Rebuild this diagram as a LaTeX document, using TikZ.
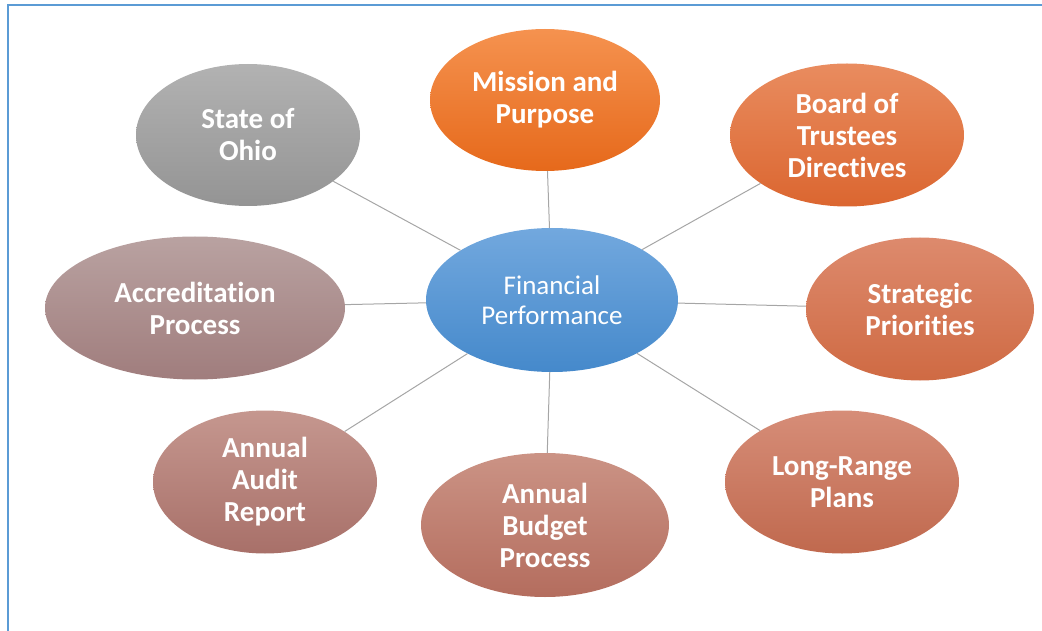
\documentclass[tikz,border=0pt]{standalone}
\usepackage{fontspec}
\setmainfont{Carlito}[Ligatures=CommonOff]
\usetikzlibrary{shapes.geometric}
\definecolor{frameblue}{HTML}{5B9BD5}
\definecolor{linkgray}{HTML}{A6A6A6}
\definecolor{hubtop}{HTML}{72A8DE}      \definecolor{hubbot}{HTML}{4589CB}
\definecolor{missiontop}{HTML}{F5924F}  \definecolor{missionbot}{HTML}{E6691B}
\definecolor{boardtop}{HTML}{E98C5F}    \definecolor{boardbot}{HTML}{DB6630}
\definecolor{strategytop}{HTML}{DD8A6D} \definecolor{strategybot}{HTML}{CF6A43}
\definecolor{longtop}{HTML}{D68D78}     \definecolor{longbot}{HTML}{C0694E}
\definecolor{budgettop}{HTML}{CB9385}   \definecolor{budgetbot}{HTML}{B46D5E}
\definecolor{audittop}{HTML}{C5978F}    \definecolor{auditbot}{HTML}{A87069}
\definecolor{accredtop}{HTML}{B9A2A1}   \definecolor{accredbot}{HTML}{A07D7D}
\definecolor{ohiotop}{HTML}{B2B2B2}     \definecolor{ohiobot}{HTML}{949494}
\begin{document}
\begin{tikzpicture}[x=1pt, y=-1pt,
    bubble/.style 2 args={ellipse, inner sep=0pt, top color=#1, bottom color=#2,
      draw=none, text=white, align=center,
      font=\bfseries\fontsize{29}{32}\selectfont},
    link/.style={draw=linkgray, line width=1pt}]
      \useasboundingbox (0, 0) rectangle (1042, 631);
      \draw [frameblue, line width=2pt] (7.5, 631) -- (7.5, 5.5) -- (1042, 5.5);
      % hub
      \node (hub) [bubble={hubtop}{hubbot}, minimum width=252pt, minimum height=144pt,
                   font=\fontsize{27}{30}\selectfont] at (552, 300) {Financial\\Performance};
      % topics round the hub
      \node (mission) [bubble={missiontop}{missionbot}, minimum width=230pt, minimum height=142pt]
            at (545, 100) {Mission and\\Purpose};
      \node (board) [bubble={boardtop}{boardbot}, minimum width=234pt, minimum height=143pt]
            at (847, 135) {Board of\\Trustees\\Directives};
      \node (strategy) [bubble={strategytop}{strategybot}, minimum width=228pt, minimum height=143pt]
            at (920, 309) {Strategic\\Priorities};
      \node (longrange) [bubble={longtop}{longbot}, minimum width=234pt, minimum height=143pt]
            at (842, 482) {Long-Range\\Plans};
      \node (budget) [bubble={budgettop}{budgetbot}, minimum width=248pt, minimum height=144pt]
            at (545, 525) {Annual\\Budget\\Process};
      \node (audit) [bubble={audittop}{auditbot}, minimum width=224pt, minimum height=143pt]
            at (265, 482) {Annual\\Audit\\Report};
      \node (accred) [bubble={accredtop}{accredbot}, minimum width=300pt, minimum height=143pt]
            at (195, 308) {Accreditation\\Process};
      \node (ohio) [bubble={ohiotop}{ohiobot}, minimum width=224pt, minimum height=142pt]
            at (248, 135) {State of\\Ohio};
      \foreach \topic in {mission, board, strategy, longrange, budget, audit, accred, ohio}
        \draw [link] (hub) -- (\topic);
\end{tikzpicture}
\end{document}
